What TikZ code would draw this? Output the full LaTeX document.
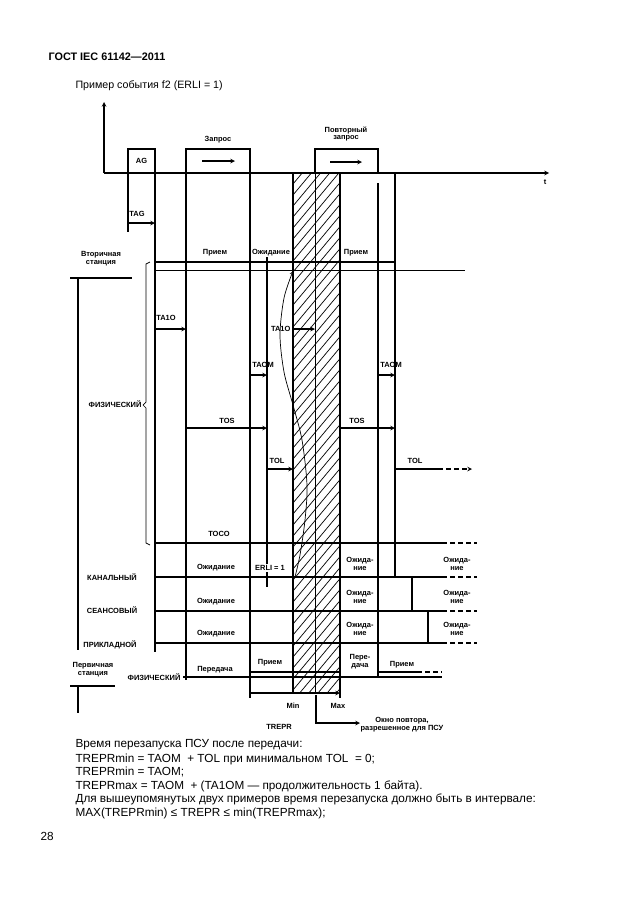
\documentclass[tikz,border=0pt]{standalone}
\usepackage{fontspec}
\setmainfont{Liberation Sans}
\begin{document}
\begin{tikzpicture}[x=1bp,y=-1bp,>=stealth,line width=1.1bp,
  lbl/.style={font=\fontsize{7.5}{8}\selectfont\bfseries,inner sep=0pt,align=center},
  txt/.style={font=\fontsize{11.8}{13}\selectfont,inner sep=0pt,anchor=west},
  tail/.style={dash pattern=on 5bp off 3bp},
  fine/.style={line width=0.7bp}]
\useasboundingbox (0,0) rectangle (630,913);

\node[font=\fontsize{10.9}{13}\selectfont\bfseries,anchor=west,inner sep=0pt] (hdr) at (48,57) {ГОСТ IEC 61142—2011};
\node[txt,font=\fontsize{10.7}{13}\selectfont] (ttl) at (75,86) {Пример события f2 (ERLI = 1)};

% hatched window
\begin{scope}
\clip (293,173) rectangle (340,692);
\foreach \k in {0,...,54}
  \draw[fine] (293,173+\k*11) -- ++(60,-72);
\end{scope}

% axes
\draw[->] (104,173)--(104,102);
\draw[->] (104,173)--(549,173);
\node[lbl] (t) at (545,182) {t};

% frames
\draw (128,173) rectangle (155,149);
\node[lbl] (ag) at (141.5,161) {AG};
\draw (186,173) rectangle (250,149);
\draw[->] (202,161)--(235,161);
\node[lbl] (zap) at (218,140) {Запрос};
\draw (315,173) rectangle (378,149);
\draw[->] (330,162)--(362,162);
\node[lbl] (pzap) at (346,134) {Повторный\\запрос};

% time marks
\draw (128,173)--(128,232);
\draw (155,173)--(155,652);
\draw (186,173)--(186,680);
\draw (250,173)--(250,698);
\draw (267,257)--(267,587);
\draw (293,173)--(293,692);
\draw[fine] (315,173)--(315,692);
\draw (340,173)--(340,698);
\draw (378,183)--(378,677);
\draw (395,173)--(395,577);

% secondary station
\node[lbl] (sec) at (101,259) {Вторичная\\станция};
\draw (70,278)--(132,278);
\draw (78,278)--(78,650);
\draw (155,262)--(395,262);
\draw[fine] (155,270)--(465,270);
\draw[fine] (150,262)--(146,264)--(146,402)--(143,405)--(146,408)--(146,543)--(150,545);
\node[lbl,anchor=east] (phys) at (142,404) {ФИЗИЧЕСКИЙ};
\node[lbl] (rx1) at (215,253) {Прием};
\node[lbl] (wt1) at (271,253) {Ожидание};
\node[lbl] (rx2) at (356,253) {Прием};

\draw[->] (128,223)--(155,223);
\node[lbl] (tag) at (137,214) {TAG};
\draw[->] (155,329)--(186,329);
\node[lbl] (ta1) at (166,318) {TA1O};
\draw[->] (293,329)--(315,329);
\node[lbl,anchor=east] (ta2) at (291,329) {TA1O};
\draw[->] (250,375)--(267,375);
\node[lbl] (tam1) at (263,365) {TAOM};
\draw[->] (378,375)--(395,375);
\node[lbl] (tam2) at (391,365) {TAOM};
\draw[->] (186,428)--(267,428);
\node[lbl] (tos1) at (227,421) {TOS};
\draw[->] (340,428)--(395,428);
\node[lbl] (tos2) at (357,421) {TOS};
\draw[->] (267,469)--(293,469);
\node[lbl] (tol1) at (277,461) {TOL};
\draw (395,469)--(438,469);
\draw[->,tail] (438,469)--(472,469);
\node[lbl] (tol2) at (415,461) {TOL};
\node[lbl] (toco) at (219,534) {TOCO};

% layers
\foreach \y in {543,577,611,643} {
  \draw (155,\y)--(442,\y);
  \draw[tail] (442,\y)--(477,\y);
}
\node[lbl] (kan) at (112,577) {КАНАЛЬНЫЙ};
\node[lbl] (sea) at (112,610) {СЕАНСОВЫЙ};
\node[lbl] (pri) at (110,645) {ПРИКЛАДНОЙ};
\foreach \y/\n in {568/a,602/b,634/c}
  \node[lbl] (w\n) at (216,\y) {Ожидание};
\foreach \y/\n in {564/a,597/b,629/c} {
  \node[lbl] (v\n) at (360,\y) {Ожида-\\ние};
  \node[lbl] (u\n) at (457,\y) {Ожида-\\ние};
}
\node[lbl,fill=white,inner sep=1bp] (erli) at (270,568) {ERLI = 1};
\draw[line width=2.8bp] (267,577)--(293,577);
\draw[line width=2.8bp] (395,577)--(412,577)--(412,611)--(428,611)--(428,643)--(434,643);
\draw[->,fine] plot[smooth] coordinates {(295,577) (300,555) (305,520) (307,485) (302,440) (293,405) (284,372) (280,335) (284,298) (293,271)};

% primary station
\node[lbl] (prim) at (93,670) {Первичная\\станция};
\draw (70,686)--(115,686);
\draw (78,686)--(78,713);
\node[lbl] (phys2) at (154,677) {ФИЗИЧЕСКИЙ};
\draw (183,677)--(442,677);
\draw (250,672)--(340,672);
\draw (378,672)--(417,672);
\draw[tail] (417,672)--(442,672);
\node[lbl] (tx1) at (215,670) {Передача};
\node[lbl] (rx3) at (270,663) {Прием};
\node[lbl] (tx2) at (360,662) {Пере-\\дача};
\node[lbl] (rx4) at (402,665) {Прием};

% restart window
\draw[->] (250,693)--(340,693);
\node[lbl] (mn) at (293,706) {Min};
\node[lbl] (mx) at (338,706) {Max};
\draw[->] (316,695)--(316,723)--(360,723);
\node[lbl] (trepr) at (279,727) {TREPR};
\node[lbl] (okno) at (402,725) {Окно повтора,\\разрешенное для ПСУ};

% notes
\node[txt] (n1) at (75,745) {Время перезапуска ПСУ после передачи:};
\node[txt] (n2) at (75,759) {TREPRmin = TAOM~ + TOL при минимальном TOL~ = 0;};
\node[txt] (n3) at (75,772) {TREPRmin = TAOM;};
\node[txt] (n4) at (75,786) {TREPRmax = TAOM~ + (TA1OM — продолжительность 1 байта).};
\node[txt] (n5) at (75,799) {Для вышеупомянутых двух примеров время перезапуска должно быть в интервале:};
\node[txt] (n6) at (75,813) {MAX(TREPRmin) ≤ TREPR ≤ min(TREPRmax);};
\node[txt] (pg) at (40,836) {28};
\end{tikzpicture}
\end{document}
